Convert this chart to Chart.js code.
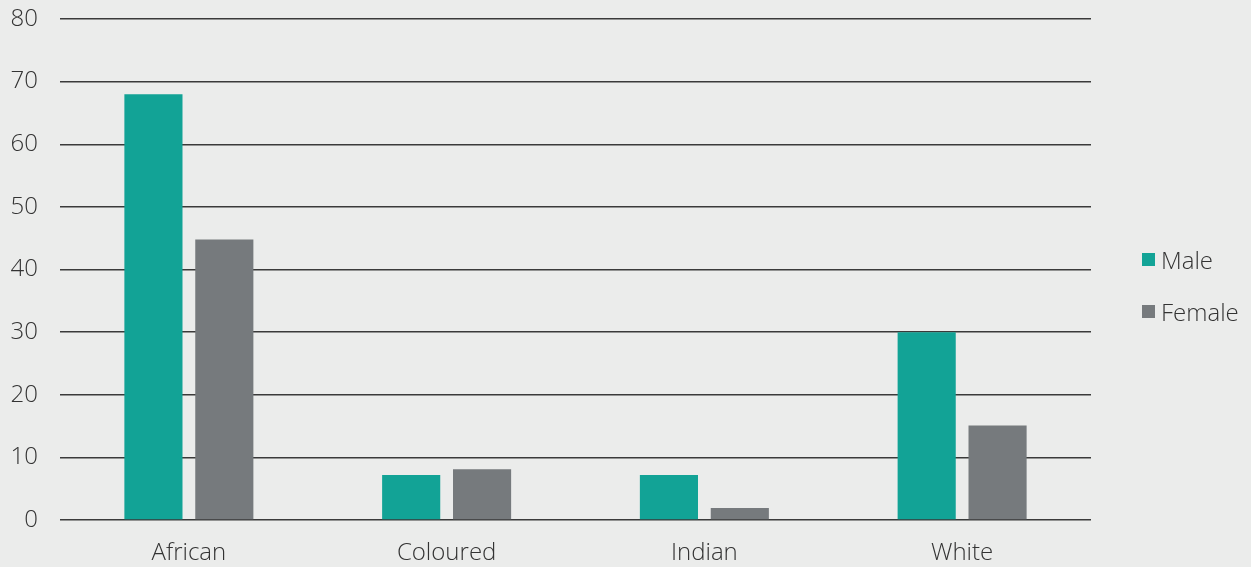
<!DOCTYPE html>
<html>
<head>
<meta charset="utf-8">
<script src="https://cdn.jsdelivr.net/npm/chart.js@4"></script>
<style>
  html, body { margin: 0; padding: 0; background: #ebeceb; }
  #wrap { position: relative; width: 1251px; height: 567px; }
  #legend { position: absolute; left: 1142px; top: 243px; font-family: "Open Sans", sans-serif; font-weight: 300; font-size: 24px; color: #333; }
  #legend div { display: flex; align-items: center; height: 32px; margin-bottom: 20px; }
  #legend span.box { display: inline-block; width: 13px; height: 13px; margin-right: 6px; }
</style>
</head>
<body>
<div id="wrap">
  <canvas id="raceChart" width="1251" height="567"></canvas>
  <div id="legend"></div>
</div>
<script>
const categories = ["African", "Coloured", "Indian", "White"];
const maleValues = [68, 7.2, 7.2, 30];
const femaleValues = [44.8, 8.1, 1.9, 15.1];
const seriesNames = ["Male", "Female"];
const seriesColors = ["#12a396", "#767a7d"];

Chart.defaults.font.family = '"Open Sans", sans-serif';
Chart.defaults.font.weight = 300;
Chart.defaults.color = "#333";

const ctx = document.getElementById("raceChart").getContext("2d");
window.raceChart = new Chart(ctx, {
    type: "bar",
    data: {
        labels: categories,
        datasets: [
            { label: seriesNames[0], data: maleValues, backgroundColor: seriesColors[0] },
            { label: seriesNames[1], data: femaleValues, backgroundColor: seriesColors[1] },
        ],
    },
    options: {
        responsive: false,
        animation: false,
        categoryPercentage: 0.55,
        barPercentage: 0.82,
        layout: { padding: { left: 0, right: 160, top: 19, bottom: 0 } },
        plugins: { legend: { display: false }, tooltip: { enabled: false } },
        scales: {
            x: {
                grid: { display: false, drawTicks: false },
                border: { display: false },
                ticks: { font: { size: 24 }, padding: 19, color: "#333" },
                afterFit: (scale) => { scale.height = 47; },
            },
            y: {
                min: 0,
                max: 80,
                ticks: { stepSize: 10, font: { size: 24 }, padding: 22, color: "#333" },
                grid: { color: "#3a3a3a", lineWidth: 1.5, drawTicks: false },
                border: { display: false },
                afterFit: (scale) => {
                    scale.width = 60;
                    scale.paddingTop = 0;
                    scale.paddingBottom = 0;
                },
            },
        },
    },
});

// legend on the right
const legendEl = document.getElementById("legend");
seriesNames.forEach((name, i) => {
    const row = document.createElement("div");
    row.innerHTML = '<span class="box" style="background:' + seriesColors[i] + '"></span>' + name;
    legendEl.appendChild(row);
});
</script>
</body>
</html>
